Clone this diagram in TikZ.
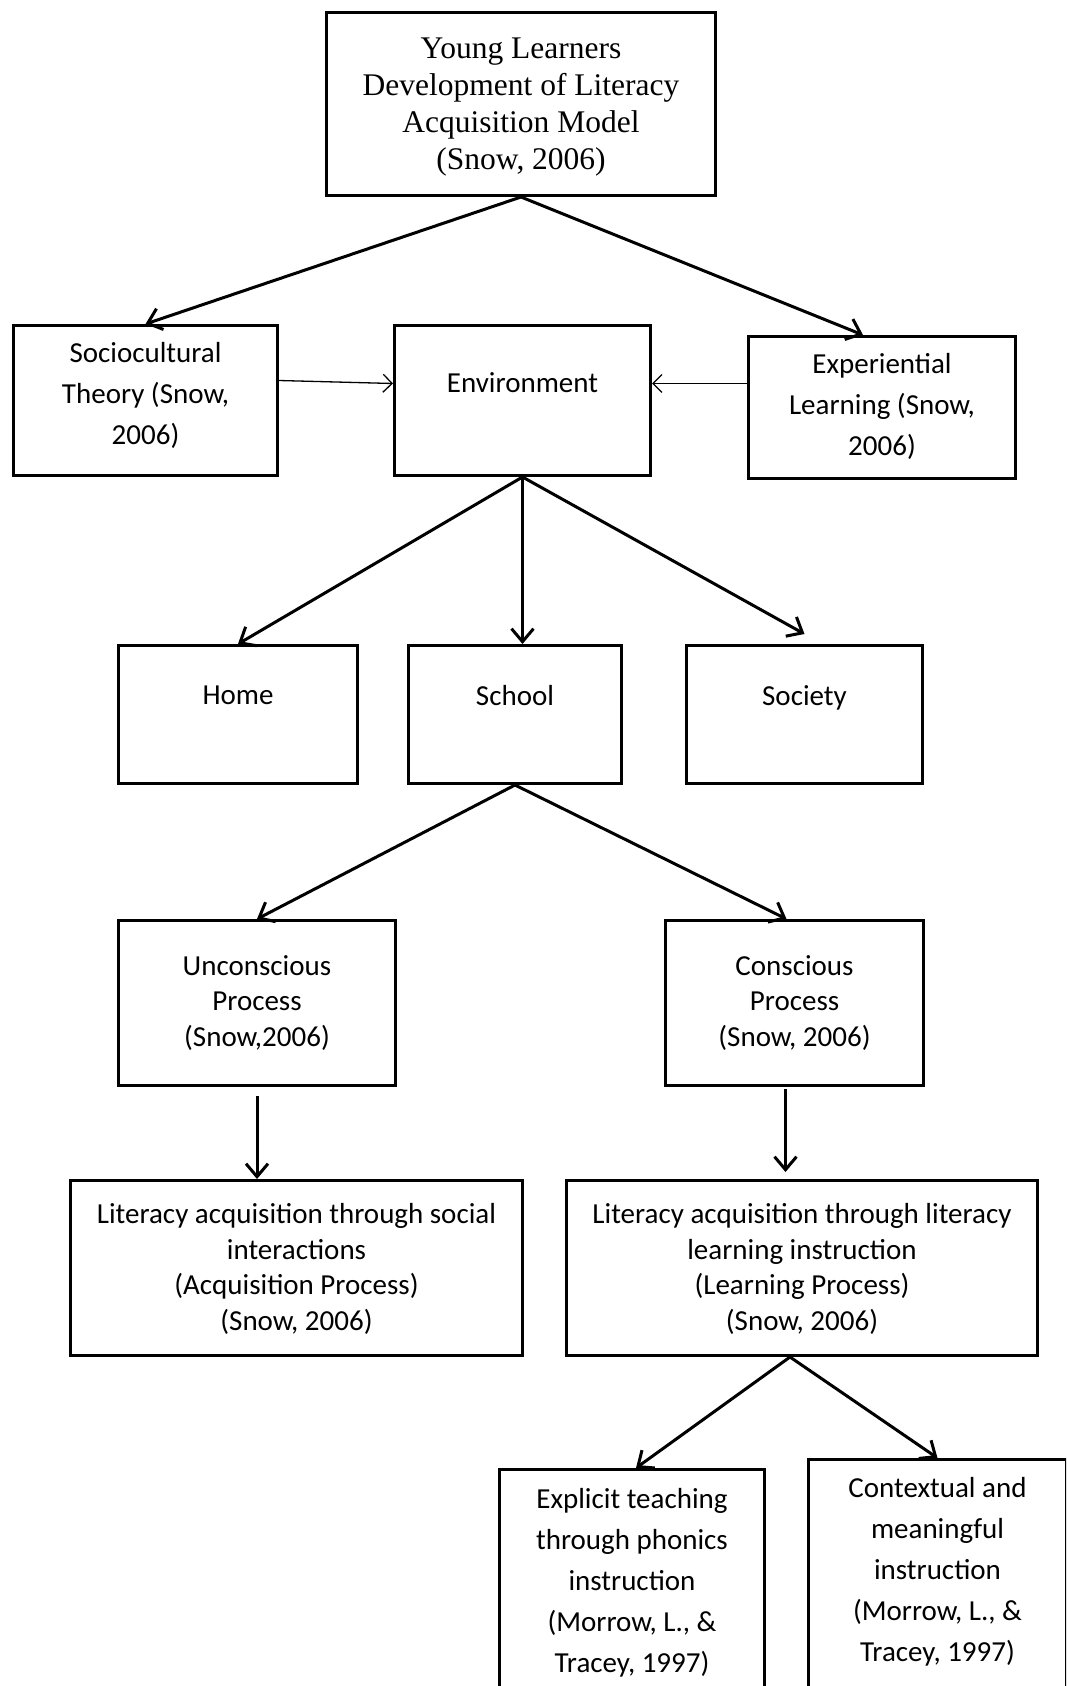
\documentclass[tikz,border=0pt]{standalone}
\usepackage{fontspec}
\setmainfont{Carlito}
\newfontfamily\titlefont{Liberation Serif}
\usetikzlibrary{arrows.meta}

% fixed-size box with its text set from the top
\newcommand{\boxtext}[4]{\parbox[t][#2pt][t]{#1pt}{\centering\vspace*{#3pt}#4}}

\begin{document}
\begin{tikzpicture}[x=1pt,y=-1pt,
    box/.style={draw, line width=3pt, inner sep=0pt, anchor=north west,
      font=\fontsize{29}{41}\selectfont},
    tight/.style={font=\fontsize{29}{35.5}\selectfont},
    arr/.style={line width=3pt, -{Straight Barb[length=13pt,width=22pt]}},
    thinarr/.style={line width=1.3pt, -{Straight Barb[length=9pt,width=18pt]}}]
  \useasboundingbox (0,0) rectangle (1066,1686);
  \clip (0,0) rectangle (1066,1686);

  \node[box,font=\titlefont\fontsize{31.5}{37}\selectfont] (model) at (325,11)
    {\boxtext{389}{183}{25}{Young Learners\\Development of Literacy\\Acquisition Model\\(Snow, 2006)}};

  \node[box] (socio) at (12,324) {\boxtext{264}{150}{17}{Sociocultural\\Theory (Snow,\\2006)}};
  \node[box] (env) at (393,324) {\boxtext{256}{150}{47}{Environment}};
  \node[box] (exp) at (747,335) {\boxtext{267}{142}{17}{Experiential\\Learning (Snow,\\2006)}};

  \node[box] (home) at (117,644) {\boxtext{239}{138}{40}{Home}};
  \node[box] (school) at (407,644) {\boxtext{213}{138}{40}{School}};
  \node[box] (society) at (685,644) {\boxtext{236}{138}{40}{Society}};

  \node[box,tight] (uncon) at (117,919) {\boxtext{277}{165}{35}{Unconscious\\Process\\(Snow,2006)}};
  \node[box,tight] (con) at (664,919) {\boxtext{258}{165}{35}{Conscious\\Process\\(Snow, 2006)}};

  \node[box,tight] (social) at (69,1179) {\boxtext{452}{175}{23}{Literacy acquisition through social\\interactions\\(Acquisition Process)\\(Snow, 2006)}};
  \node[box,tight] (instr) at (565,1179) {\boxtext{471}{175}{23}{Literacy acquisition through literacy\\learning instruction\\(Learning Process)\\(Snow, 2006)}};

  \node[box] (explicit) at (498,1468) {\boxtext{265}{240}{19}{Explicit teaching\\through phonics\\instruction\\(Morrow, L., \&\\Tracey, 1997)}};
  \node[box] (context) at (807,1458) {\boxtext{258}{250}{18}{Contextual and\\meaningful\\instruction\\(Morrow, L., \&\\Tracey, 1997)}};

  %% arrows
  \draw[arr] (model.south) -- (socio.north);
  \draw[arr] (model.south) -- ([xshift=-19pt]exp.north);
  \draw[thinarr] ([yshift=20pt]socio.east) -- ([yshift=17pt]env.west);
  \draw[thinarr] ([yshift=24pt]exp.west) -- ([yshift=17pt]env.east);

  \draw[arr] (env.south) -- (home.north);
  \draw[arr] (env.south) -- (env.south |- school.north);
  \draw[arr] (env.south) -- ([yshift=10pt]society.north);

  \draw[arr] (school.south) -- (uncon.north);
  \draw[arr] (school.south) -- ([xshift=-8pt]con.north);

  \path (con.south |- instr.north) coordinate (conin);
  \draw[arr] ([yshift=-9pt]uncon.south) -- (uncon.south |- social.north);
  \draw[arr] ([xshift=-9pt,yshift=-2pt]con.south) -- ([xshift=-9pt,yshift=7pt]conin);

  \draw[arr] ([xshift=-12pt]instr.south) -- ([xshift=4pt]explicit.north);
  \draw[arr] ([xshift=-12pt]instr.south) -- (context.north);
\end{tikzpicture}
\end{document}
